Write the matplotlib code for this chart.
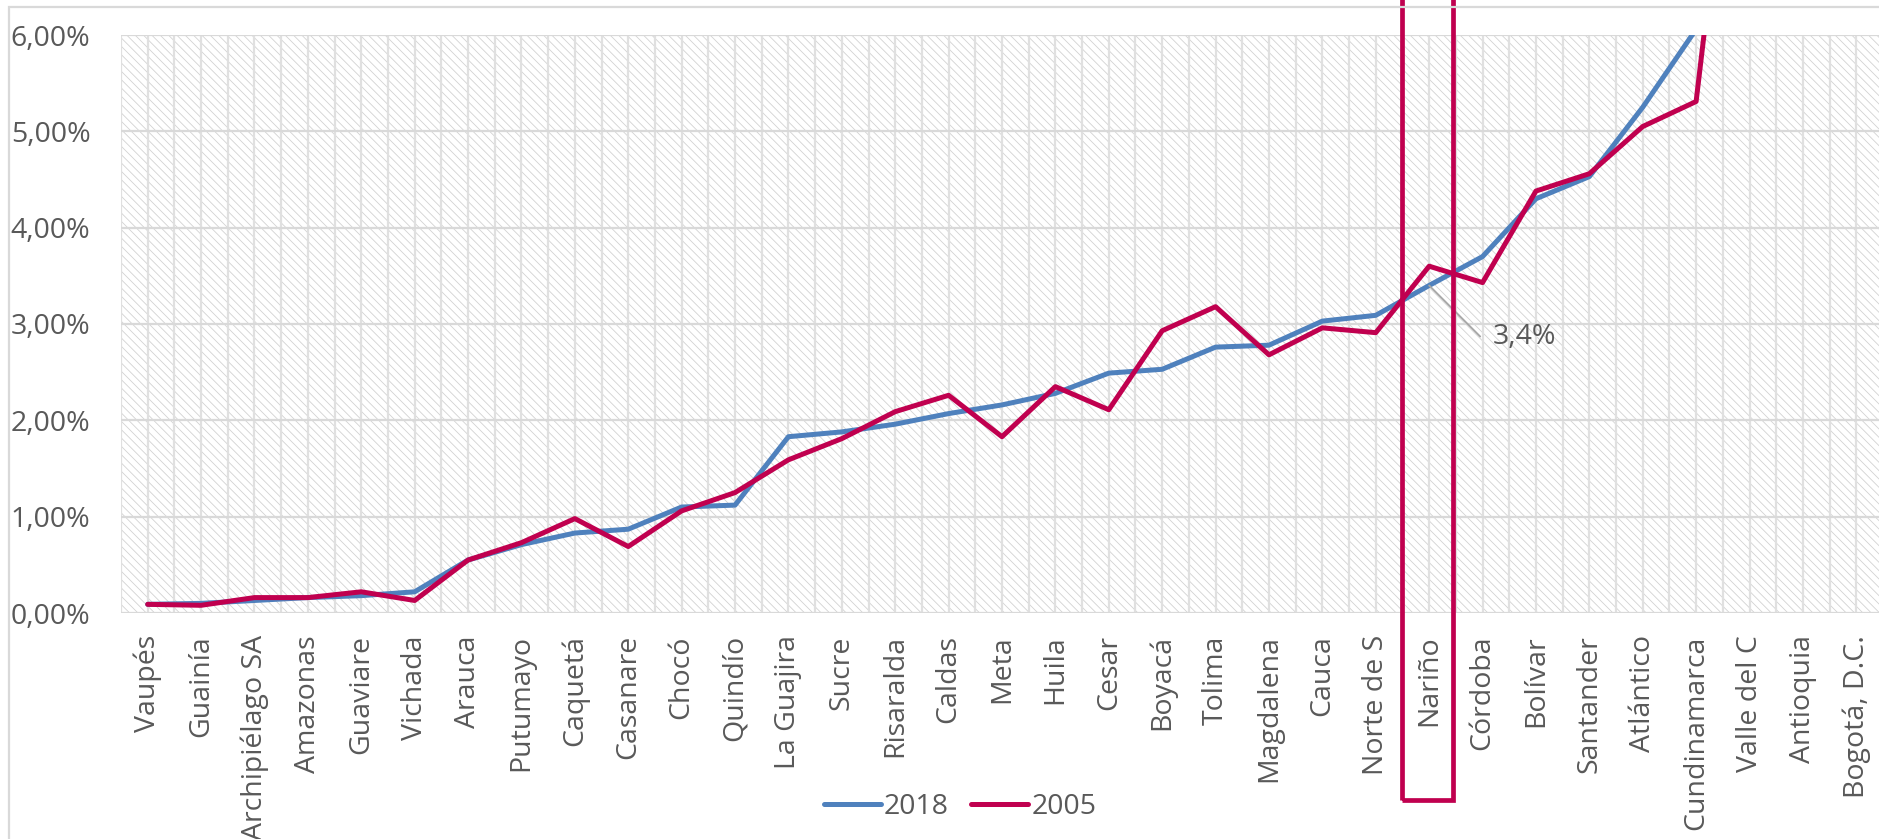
import matplotlib.pyplot as plt
from matplotlib.patches import Rectangle
from matplotlib.transforms import blended_transform_factory
from matplotlib.ticker import FuncFormatter

plt.rcParams['font.family'] = ['Open Sans', 'DejaVu Sans']
plt.rcParams['hatch.linewidth'] = 0.6

departamentos = ["Vaupés", "Guainía", "Archipiélago SA", "Amazonas", "Guaviare", "Vichada",
                 "Arauca", "Putumayo", "Caquetá", "Casanare", "Chocó", "Quindío",
                 "La Guajira", "Sucre", "Risaralda", "Caldas", "Meta", "Huila", "Cesar",
                 "Boyacá", "Tolima", "Magdalena", "Cauca", "Norte de S", "Nariño",
                 "Córdoba", "Bolívar", "Santander", "Atlántico", "Cundinamarca",
                 "Valle del C", "Antioquia", "Bogotá, D.C."]

# participación en la población total (%)
p2018 = [0.09, 0.10, 0.13, 0.16, 0.18, 0.22, 0.55, 0.71, 0.83, 0.87, 1.10, 1.12,
         1.83, 1.88, 1.96, 2.07, 2.16, 2.28, 2.49, 2.53, 2.76, 2.78, 3.03, 3.09,
         3.40, 3.70, 4.30, 4.53, 5.25, 6.06, 9.30, 13.30, 15.40]
p2005 = [0.09, 0.08, 0.16, 0.16, 0.22, 0.13, 0.55, 0.73, 0.98, 0.69, 1.06, 1.25,
         1.59, 1.81, 2.09, 2.26, 1.83, 2.35, 2.11, 2.93, 3.18, 2.68, 2.96, 2.91,
         3.60, 3.43, 4.38, 4.56, 5.05, 5.31, 10.00, 13.80, 16.40]

grey = "#595959"
blue = "#4F81BD"
red = "#C0004F"

fig = plt.figure(figsize=(18.79, 8.39), dpi=100)
ax = fig.add_axes([121 / 1879, 1 - 613 / 839, 1762 / 1879, 578 / 839])

x = list(range(len(departamentos)))

# fondo rayado
ax.add_patch(Rectangle((0, 0), 1, 1, transform=ax.transAxes, facecolor="white",
                       edgecolor="#d2d2d2", hatch="\\\\\\\\", lw=0, zorder=0))

for k in range(len(departamentos) + 1):
    ax.axvline(k - 0.5, color="#e0e0e0", lw=1.6, zorder=1)
    ax.axvline(k, color="#e0e0e0", lw=1.6, zorder=1)
for v in range(0, 7):
    ax.axhline(v, color="#d9d9d9", lw=1.6, zorder=1)

ax.plot(x, p2018, color=blue, lw=3.6, label="2018", zorder=3, solid_capstyle="round")
ax.plot(x, p2005, color=red, lw=3.6, label="2005", zorder=4, solid_capstyle="round")

ax.set_xlim(-0.5, len(departamentos) - 0.5)
ax.set_ylim(0, 6)
ax.set_yticks(range(0, 7))
ax.yaxis.set_major_formatter(FuncFormatter(lambda v, p: f"{v:.2f}%".replace(".", ",")))
ax.set_xticks(x)
ax.set_xticklabels(departamentos, rotation=90, ha="center", va="top")
ax.tick_params(axis="both", length=0, labelsize=20.5, colors=grey)
ax.tick_params(axis="x", pad=16)
ax.tick_params(axis="y", pad=22)
for s in ax.spines.values():
    s.set_visible(False)

# etiqueta Nariño
i = departamentos.index("Nariño")
ax.annotate(f"{p2018[i]:.1f}%".replace(".", ","), xy=(i, p2018[i]), xytext=(i + 1.19, 2.865),
            fontsize=20.5, color=grey, ha="left", va="center", zorder=6,
            arrowprops=dict(arrowstyle="-", color="#a6a6a6", lw=1.3, shrinkA=7, shrinkB=0,
                            relpos=(0, 0.5),
                            connectionstyle="angle,angleA=0,angleB=-45,rad=0"))

# recuadro Nariño
tr = blended_transform_factory(ax.transData, ax.transAxes)
ax.add_patch(Rectangle((i - 0.5, -0.324), 0.95, 1.5, transform=tr, fill=False,
                       edgecolor=red, lw=3.4, clip_on=False, zorder=7))

# borde del gráfico
fig.patches.append(Rectangle((9 / 1879, -0.1), 1.2, 1 - 7 / 839 + 0.1, transform=fig.transFigure,
                             fill=False, edgecolor="#d9d9d9", lw=1.6))

leg = fig.legend(loc="center", bbox_to_anchor=(960 / 1879, 32 / 839), ncol=2, frameon=False,
                 fontsize=20.5, handlelength=2.0, handletextpad=0.1, columnspacing=0.8)
for t in leg.get_texts():
    t.set_color(grey)

fig.savefig("out.png", dpi=100)
